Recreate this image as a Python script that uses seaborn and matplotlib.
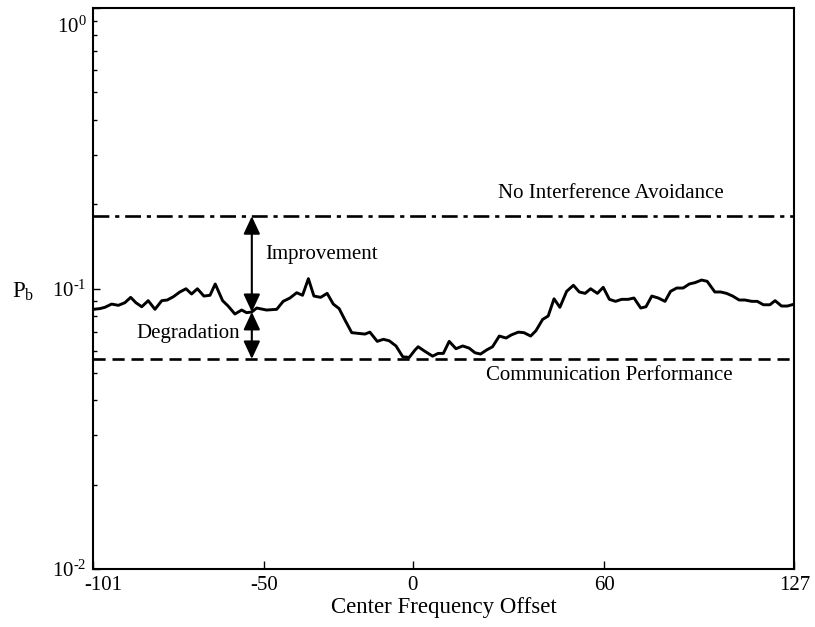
import matplotlib
matplotlib.use("Agg")
import matplotlib.pyplot as plt
import matplotlib.ticker as mticker
from matplotlib.transforms import ScaledTranslation
import pandas as pd
import seaborn as sns

# Swept-band channel index (0 .. 228) and measured bit error probability
bin_pos = [0.0, 2.1, 3.7, 5.9, 8.1, 10.2, 12.1, 13.8, 15.7, 17.8,
           20.0, 22.2, 24.0, 26.0, 28.1, 30.1, 31.9, 33.8, 35.9, 37.9,
           39.6, 42.0, 43.8, 46.0, 48.2, 49.8, 51.5, 53.1, 56.3, 59.6,
           61.7, 63.9, 66.1, 68.0, 69.9, 71.7, 73.9, 76.0, 78.0, 79.9,
           81.8, 84.0, 86.1, 88.3, 89.9, 92.3, 94.3, 96.2, 98.4, 100.6,
           102.7, 104.6, 105.6, 107.8, 110.3, 112.1, 113.8, 115.7, 117.9, 120.1,
           122.2, 124.1, 125.9, 127.9, 129.8, 132.0, 134.2, 136.0, 138.2, 140.0,
           142.2, 143.9, 146.1, 147.9, 149.8, 151.7, 153.9, 156.1, 158.0, 159.9,
           161.7, 163.9, 165.8, 167.8, 169.8, 171.8, 173.9, 175.8, 178.0, 179.7,
           181.6, 183.7, 185.9, 187.7, 189.7, 191.8, 193.8, 195.6, 197.8, 199.6,
           202.1, 204.0, 205.9, 207.9, 210.0, 211.9, 214.1, 215.9, 217.9, 220.0,
           221.7, 223.8, 225.7, 228.0]
pb = [0.0843, 0.0848, 0.0857, 0.0880, 0.0871, 0.0890, 0.0930, 0.0890, 0.0861, 0.0905,
      0.0843, 0.0905, 0.0910, 0.0935, 0.0972, 0.0998, 0.0956, 0.0998, 0.0940, 0.0946,
      0.1038, 0.0905, 0.0866, 0.0811, 0.0838, 0.0820, 0.0825, 0.0852, 0.0838, 0.0843,
      0.0900, 0.0925, 0.0966, 0.0946, 0.1084, 0.0940, 0.0930, 0.0961, 0.0880, 0.0848,
      0.0772, 0.0696, 0.0692, 0.0688, 0.0699, 0.0648, 0.0659, 0.0651, 0.0624, 0.0571,
      0.0568, 0.0604, 0.0620, 0.0597, 0.0574, 0.0587, 0.0587, 0.0648, 0.0610, 0.0624,
      0.0613, 0.0590, 0.0584, 0.0604, 0.0620, 0.0677, 0.0666, 0.0684, 0.0699, 0.0696,
      0.0677, 0.0707, 0.0776, 0.0798, 0.0919, 0.0857, 0.0977, 0.1027, 0.0972, 0.0961,
      0.0998, 0.0961, 0.1010, 0.0915, 0.0900, 0.0915, 0.0915, 0.0925, 0.0852, 0.0861,
      0.0940, 0.0925, 0.0900, 0.0977, 0.1004, 0.1004, 0.1038, 0.1049, 0.1072, 0.1061,
      0.0972, 0.0972, 0.0961, 0.0940, 0.0910, 0.0910, 0.0900, 0.0900, 0.0875, 0.0875,
      0.0905, 0.0866, 0.0866, 0.0880]

# Reference levels
no_avoid_pb = 0.181   # no interference avoidance
comm_pb = 0.0561      # communication performance

# Frequency-offset labels along the channel index
tick_bins = [0, 55.5, 103.8, 166.2, 228]
tick_labels = ["-101", "-50", "0", "60", "127"]
marker_bin = 51.5

sns.set_theme(style="ticks")
plt.rcParams["font.family"] = ["Liberation Serif", "DejaVu Serif"]
plt.rcParams["mathtext.fontset"] = "custom"
plt.rcParams["mathtext.rm"] = "Liberation Serif"
plt.rcParams["mathtext.it"] = "Liberation Serif:italic"
plt.rcParams["axes.unicode_minus"] = False
plt.rcParams["axes.linewidth"] = 1.5

fig = plt.figure(figsize=(8.15, 6.27), dpi=100)
ax = fig.add_axes([0.1147, 0.0925, 0.8601, 0.8947])

df = pd.DataFrame({"bin": bin_pos, "pb": pb})
sns.lineplot(data=df, x="bin", y="pb", color="black", linewidth=2.1, ax=ax)

ax.axhline(no_avoid_pb, color="black", lw=1.9, dashes=(6, 2.2, 1.6, 2.2))
ax.axhline(comm_pb, color="black", lw=1.9, dashes=(4.6, 2.6))

ax.set_yscale("log")
ax.set_ylim(1e-2, 1)
ax.set_xlim(0, 228)
ax.set_yticks([1e-2, 1e-1, 1])
ax.set_yticklabels([r"$\mathregular{10^{\text{-}2}}$",
                    r"$\mathregular{10^{\text{-}1}}$",
                    r"$\mathregular{10^{0}}$"])
ax.yaxis.set_minor_locator(mticker.LogLocator(base=10, subs=range(2, 10)))
ax.yaxis.set_minor_formatter(mticker.NullFormatter())
ax.set_xticks(tick_bins)
ax.set_xticklabels(tick_labels)

ax.tick_params(axis="x", which="major", direction="in", length=6, width=1,
               labelsize=15, pad=5, colors="black")
ax.tick_params(axis="y", which="major", direction="in", length=5, width=1,
               labelsize=15, pad=5, colors="black")
ax.tick_params(axis="y", which="minor", direction="in", length=3, width=1,
               colors="black")
for s in ax.spines.values():
    s.set_color("black")
    s.set_linewidth(1.5)

# keep the edge labels clear of the frame corners
top_lab = ax.get_yticklabels()[2]
top_lab.set_transform(top_lab.get_transform()
                      + ScaledTranslation(0, -0.17, fig.dpi_scale_trans))
left_lab = ax.get_xticklabels()[0]
left_lab.set_transform(left_lab.get_transform()
                       + ScaledTranslation(0.10, 0, fig.dpi_scale_trans))

ax.set_xlabel("Center Frequency Offset", fontsize=16.5, color="black")
ax.xaxis.set_label_coords(0.5, -0.05)
ax.xaxis.label.set_va("top")
ax.set_ylabel(r"P$_{\mathregular{b}}$", fontsize=16.5, rotation=0,
              color="black", va="center", ha="center")
ax.yaxis.set_label_coords(-0.1, 0.494)

# Gap arrows between the curve and the two reference levels
pb_at_marker = pb[bin_pos.index(marker_bin)]
arrow_kw = dict(arrowstyle="<|-|>,head_length=0.6,head_width=0.28",
                color="black", lw=1.5, mutation_scale=18,
                shrinkA=0, shrinkB=0)
ax.annotate("", xy=(marker_bin, no_avoid_pb), xytext=(marker_bin, pb_at_marker),
            arrowprops=arrow_kw)
ax.annotate("", xy=(marker_bin, pb_at_marker), xytext=(marker_bin, comm_pb),
            arrowprops=arrow_kw)

ax.text(55.8, 0.1317, "Improvement", fontsize=15, ha="left", va="center",
        color="black")
ax.text(30.9, 0.0694, "Degradation", fontsize=15, ha="center", va="center",
        color="black")
ax.text(168.3, 0.219, "No Interference Avoidance", fontsize=15, ha="center",
        va="center", color="black")
ax.text(167.7, 0.0491, "Communication Performance", fontsize=15, ha="center",
        va="center", color="black")

fig.savefig("out.png", dpi=100, facecolor="white")
